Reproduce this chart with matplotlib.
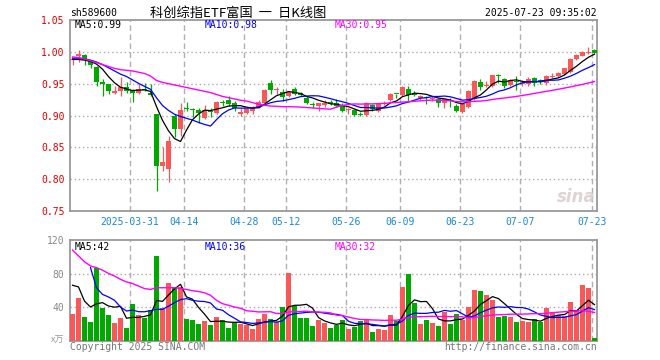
import matplotlib
matplotlib.use('Agg')
import matplotlib.pyplot as plt
import pandas as pd

# sh589600 daily bars, 2025-03-17 .. 2025-07-23
opens = [0.987, 0.9932, 0.9958, 0.985, 0.976, 0.953, 0.949, 0.935, 0.938, 0.944,
         0.938, 0.935, 0.942, 0.936, 0.903, 0.820, 0.816, 0.8995, 0.8786, 0.911,
         0.910, 0.909, 0.8958, 0.907, 0.9036, 0.921, 0.925, 0.919, 0.903, 0.9047,
         0.907, 0.9125, 0.919, 0.9505, 0.940, 0.9375, 0.9307, 0.942, 0.935, 0.928,
         0.918, 0.915, 0.917, 0.921, 0.920, 0.915, 0.909, 0.909, 0.901, 0.901,
         0.916, 0.907, 0.918, 0.9245, 0.934, 0.932, 0.941, 0.933, 0.927, 0.928,
         0.926, 0.926, 0.919, 0.923, 0.915, 0.906, 0.914, 0.9255, 0.9526, 0.946,
         0.946, 0.963, 0.958, 0.948, 0.953, 0.949, 0.949, 0.959, 0.9545, 0.951,
         0.961, 0.962, 0.965, 0.968, 0.988, 0.994, 0.998, 1.0035]
highs = [0.992, 1.0036, 0.996, 0.987, 0.977, 0.957, 0.950, 0.946, 0.960, 0.952,
         0.941, 0.949, 0.951, 0.949, 0.903, 0.850, 0.868, 0.902, 0.920, 0.921,
         0.912, 0.912, 0.916, 0.912, 0.922, 0.925, 0.931, 0.923, 0.912, 0.9125,
         0.915, 0.925, 0.941, 0.9557, 0.945, 0.942, 0.938, 0.944, 0.937, 0.931,
         0.921, 0.920, 0.924, 0.924, 0.926, 0.920, 0.911, 0.910, 0.905, 0.9205,
         0.918, 0.920, 0.923, 0.936, 0.934, 0.946, 0.946, 0.938, 0.932, 0.931,
         0.930, 0.928, 0.9265, 0.928, 0.918, 0.919, 0.9395, 0.956, 0.957, 0.954,
         0.964, 0.9645, 0.9595, 0.957, 0.962, 0.956, 0.960, 0.961, 0.957, 0.964,
         0.966, 0.969, 0.975, 0.990, 0.996, 1.001, 1.008, 1.005]
lows = [0.980, 0.9839, 0.980, 0.975, 0.947, 0.931, 0.933, 0.934, 0.930, 0.936,
        0.921, 0.933, 0.938, 0.931, 0.782, 0.8135, 0.795, 0.867, 0.868, 0.907,
        0.897, 0.889, 0.894, 0.897, 0.902, 0.915, 0.915, 0.907, 0.899, 0.902,
        0.902, 0.911, 0.918, 0.933, 0.933, 0.923, 0.929, 0.932, 0.930, 0.918,
        0.912, 0.907, 0.914, 0.917, 0.913, 0.905, 0.903, 0.8995, 0.8985, 0.8995,
        0.9075, 0.9055, 0.916, 0.9225, 0.928, 0.931, 0.923, 0.930, 0.925, 0.918,
        0.922, 0.914, 0.911, 0.914, 0.905, 0.904, 0.9125, 0.924, 0.940, 0.944,
        0.945, 0.9515, 0.9438, 0.946, 0.940, 0.947, 0.947, 0.947, 0.949, 0.948,
        0.959, 0.961, 0.963, 0.966, 0.987, 0.993, 0.996, 0.998]
closes = [0.989, 0.9964, 0.987, 0.979, 0.9526, 0.949, 0.938, 0.9385, 0.944, 0.939,
          0.936, 0.942, 0.940, 0.932, 0.820, 0.8276, 0.8604, 0.8786, 0.909, 0.910,
          0.909, 0.9047, 0.909, 0.906, 0.921, 0.920, 0.918, 0.912, 0.906, 0.9095,
          0.9125, 0.921, 0.940, 0.940, 0.942, 0.929, 0.937, 0.933, 0.932, 0.919,
          0.917, 0.919, 0.919, 0.918, 0.915, 0.907, 0.910, 0.901, 0.9005, 0.919,
          0.910, 0.918, 0.919, 0.934, 0.933, 0.944, 0.932, 0.932, 0.931, 0.927,
          0.928, 0.919, 0.9255, 0.922, 0.907, 0.918, 0.9385, 0.954, 0.944, 0.947,
          0.963, 0.962, 0.947, 0.956, 0.952, 0.950, 0.958, 0.951, 0.9535, 0.962,
          0.962, 0.967, 0.974, 0.989, 0.995, 0.9995, 1.000, 0.998]
# volume in 万手
volumes = [32, 51, 28, 22, 86, 39, 31, 21, 27, 15,
           44, 31, 27, 36, 101, 38.5, 69, 63.5, 63.5, 26,
           24.5, 20, 23.5, 19, 28, 24.5, 15, 22, 20, 18,
           14, 26, 32, 26, 22, 40, 81, 41, 27, 27,
           17.5, 24.5, 21, 15, 18.5, 24.5, 14, 16.5, 23.5, 24.5,
           10.5, 14, 12.5, 30.5, 23.5, 64, 79.5, 45, 20, 24.5,
           21, 17.5, 34, 20, 32, 24.5, 40, 60, 59, 54.5,
           48.5, 28, 29.5, 28, 22, 23.5, 22, 26, 22, 39,
           34, 30.5, 29.5, 46, 36.5, 66, 62.5, 3]

# MA values at the left edge, before the window is full
ma5_head = [0.988, 0.988, 0.987, 0.985]
ma10_head = [0.990, 0.990, 0.989, 0.987, 0.984, 0.980, 0.975, 0.970, 0.965]
ma30_head = [0.992, 0.991, 0.989, 0.986, 0.983, 0.980, 0.977, 0.974, 0.972, 0.971,
             0.970, 0.968, 0.966, 0.962, 0.955, 0.952, 0.950, 0.948, 0.946, 0.944,
             0.942, 0.940, 0.938, 0.936, 0.933, 0.930, 0.928, 0.926, 0.924]
vma5_head = [66, 64, 47, 40]
vma10_head = [None, None, None, 87, 63, 55, 52, 48, 40]
vma30_head = [108, 101, 94, 89, 87, 84, 80, 77, 73, 70,
              68, 65, 62, 61, 63, 63, 63, 63, 62, 61,
              59.5, 58.5, 57, 54, 48, 44, 42, 40, 38.5]

tick_idx = [10, 19, 29, 36, 46, 55, 65, 75, 87]
tick_labels = ['2025-03-31', '04-14', '04-28', '05-12', '05-26',
               '06-09', '06-23', '07-07', '07-23']
price_ticks = [0.75, 0.80, 0.85, 0.90, 0.95, 1.00, 1.05]
vol_ticks = [40, 80, 120]


def moving_avg(values, n, head):
    s = pd.Series(values, dtype=float).rolling(n).mean()
    for k, v in enumerate(head):
        s.iloc[k] = float('nan') if v is None else v
    return s


RED = '#f85858'
GREEN = '#00a800'
MONO = 'DejaVu Sans Mono'
W, H = 660, 360

fig = plt.figure(figsize=(6.6, 3.6), dpi=100)
fig.patch.set_facecolor('white')
ax = fig.add_axes([70 / W, 1 - 211 / H, 527 / W, 191 / H])
axv = fig.add_axes([70 / W, 1 - 340.5 / H, 527 / W, 100.5 / H])

n = len(closes)
x = list(range(n))
up = [c >= o for o, c in zip(opens, closes)]
cols = [RED if u else GREEN for u in up]

# candles
ax.vlines(x, lows, highs, colors=cols, lw=0.9, zorder=3)
bodies = [max(abs(c - o), 0.0017) for o, c in zip(opens, closes)]
bottoms = [min(o, c) for o, c in zip(opens, closes)]
ax.bar(x, bodies, bottom=bottoms, width=0.83, color=cols, lw=0, zorder=4)

ax.plot(x, moving_avg(closes, 5, ma5_head), color='black', lw=0.9, zorder=5)
ax.plot(x, moving_avg(closes, 10, ma10_head), color='#0000ff', lw=0.9, zorder=5)
ax.plot(x, moving_avg(closes, 30, ma30_head), color='#ff00ff', lw=1.0, zorder=5)

# volume
axv.bar(x, volumes, width=0.83, color=cols, lw=0, zorder=3)
axv.plot(x, moving_avg(volumes, 5, vma5_head), color='black', lw=0.9, zorder=5)
axv.plot(x, moving_avg(volumes, 10, vma10_head), color='#0000ff', lw=0.9, zorder=5)
axv.plot(x, moving_avg(volumes, 30, vma30_head), color='#ff00ff', lw=1.0, zorder=5)

for a in (ax, axv):
    a.set_xlim(-0.4167, n - 1 + 0.4167)
    for t in tick_idx:
        a.axvline(t - 0.4, color='#b0b0b0', lw=1.0, ls=(0, (4, 2.5)), zorder=1)
    for s in a.spines.values():
        s.set_color('#999999')
        s.set_linewidth(1.3)
    a.tick_params(length=0)

ax.set_ylim(0.75, 1.05)
ax.set_yticks(price_ticks)
ax.set_yticklabels(['%.2f' % p for p in price_ticks], color='#e00000',
                   fontfamily=MONO, fontsize=7)
for p in price_ticks[1:-1]:
    ax.axhline(p, color='#aaaaaa', lw=1.0, ls=(0, (1, 2)), zorder=1)
ax.set_xticks([t - 0.4 for t in tick_idx])
ax.set_xticklabels(tick_labels, color='#1a88d6', fontfamily=MONO, fontsize=7)
ax.tick_params(axis='x', pad=4)
ax.tick_params(axis='y', pad=4)

axv.set_ylim(0, 120)
axv.set_yticks(vol_ticks)
axv.set_yticklabels([str(v) for v in vol_ticks], color='#888888',
                    fontfamily=MONO, fontsize=7)
axv.tick_params(axis='y', pad=4)
axv.set_xticks([])
for v in vol_ticks[:-1]:
    axv.axhline(v, color='#aaaaaa', lw=1.0, ls=(0, (1, 2)), zorder=1)


def put(px, py, s, **kw):
    kw.setdefault('fontfamily', MONO)
    kw.setdefault('fontsize', 7)
    kw.setdefault('va', 'center')
    fig.text(px / W, 1 - py / H, s, **kw)


put(70, 13, 'sh589600', color='black')
put(150, 13, '科创综指ETF富国  一  日K线图', color='black', fontsize=9.5,
    fontfamily=['Noto Sans CJK SC', 'DejaVu Sans'])
put(597, 13, '2025-07-23 09:35:02', color='black', ha='right')

put(75, 25.5, 'MA5:0.99', color='black')
put(205, 25.5, 'MA10:0.98', color='#0000ff')
put(335, 25.5, 'MA30:0.95', color='#ff00ff')

put(75, 246.5, 'MA5:42', color='black')
put(205, 246.5, 'MA10:36', color='#0000ff')
put(335, 246.5, 'MA30:32', color='#ff00ff')

put(64, 340.5, 'x万', color='#999999', ha='right', fontsize=6.5,
    fontfamily=['Noto Sans CJK SC', 'DejaVu Sans'])
put(70, 346.5, 'Copyright 2025 SINA.COM', color='#777777')
put(597, 346.5, 'http://finance.sina.com.cn', color='#777777', ha='right')
put(596, 197, 'sina', color='#d8c8c8', ha='right', fontsize=12,
    fontfamily='DejaVu Sans', fontweight='bold', fontstyle='italic', alpha=0.8)

plt.savefig('out.png', dpi=100)
